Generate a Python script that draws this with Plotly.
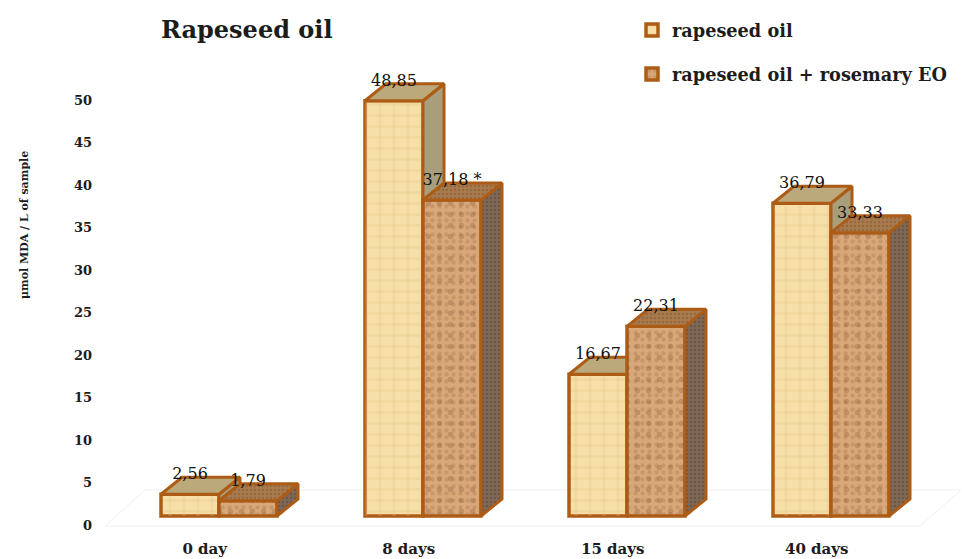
import plotly.graph_objects as go

categories = ["0 day", "8 days", "15 days", "40 days"]
series_a_name = "rapeseed oil"
series_b_name = "rapeseed oil + rosemary EO"
series_a = [2.56, 48.85, 16.67, 36.79]
series_b = [1.79, 37.18, 22.31, 33.33]
labels_a = ["2,56", "48,85", "16,67", "36,79"]
labels_b = ["1,79", "37,18 *", "22,31", "33,33"]
y_ticks = [0, 5, 10, 15, 20, 25, 30, 35, 40, 45, 50]

W, H = 962, 559
ML, MB = 93, 25
FONT = "DejaVu Serif"
INK = "#1c1c1c"
BROWN = "#ad5c16"
X_RANGE = [(ML - 219) / 204, (W - 219) / 204]
Y_RANGE = [(525 - (H - MB)) / 8.5, 525 / 8.5]
BASE = 1.06          # front plane sits above the axis zero, as in a 3-D chart
BAR_W = 58 / 204
DX, DY = 21 / 204, 17 / 8.5
LBL_UP = 19 / 8.5
TICK_SHIFT = -0.07


def faces(xs, values, face):
    px, py = [], []
    for x, v in zip(xs, values):
        l, r, b, t = x - BAR_W / 2, x + BAR_W / 2, BASE, BASE + v
        if face == "top":
            px += [l, r, r + DX, l + DX, l, None]
            py += [t, t, t + DY, t + DY, t, None]
        else:
            px += [r, r + DX, r + DX, r, r, None]
            py += [b, b + DY, t + DY, t, b, None]
    return px, py


def poly(xs, values, face, color, pat, xa, ya):
    px, py = faces(xs, values, face)
    return go.Scatter(x=px, y=py, mode="lines", fill="toself", fillcolor=color,
                      fillpattern=pat, line=dict(color=BROWN, width=3),
                      xaxis=xa, yaxis=ya, showlegend=False, hoverinfo="skip")


def texture(xs, values, pat, xa, ya):
    return go.Bar(x=xs, y=values, base=BASE, width=BAR_W, showlegend=False, hoverinfo="skip",
                  xaxis=xa, yaxis=ya, marker=dict(color="rgba(0,0,0,0)", line=dict(width=0), pattern=pat))


idx = list(range(len(categories)))
xa_pos = [i - BAR_W / 2 for i in idx]
xb_pos = [i + BAR_W / 2 for i in idx]

fig = go.Figure()

# series A: outlined front, texture layer, side and top
fig.add_trace(go.Bar(
    x=xa_pos, y=series_a, base=BASE, width=BAR_W, name=series_a_name, legendgroup="a",
    marker=dict(color="#f6dfa8", line=dict(color=BROWN, width=3.5),
                pattern=dict(shape="-", bgcolor="#f6dfa8", fgcolor="#eed296", size=11, solidity=0.25))))
fig.add_trace(texture(xa_pos, series_a,
                      dict(shape="|", bgcolor="rgba(0,0,0,0)", fgcolor="rgba(225,196,135,0.5)",
                           size=14, solidity=0.2), "x", "y"))
fig.add_trace(poly(xa_pos, series_a, "side", "#a89e7c", None, "x", "y"))
fig.add_trace(poly(xa_pos, series_a, "top", "#bba97c", None, "x", "y"))

# series B: above series A
fig.add_trace(go.Bar(
    x=xb_pos, y=series_b, base=BASE, width=BAR_W, name=series_b_name, legendgroup="b",
    xaxis="x2", yaxis="y2",
    marker=dict(color="#d8a87a", line=dict(color=BROWN, width=3.5),
                pattern=dict(shape=".", bgcolor="#d8a87a", fgcolor="#b98455", size=7, solidity=0.3))))
fig.add_trace(texture(xb_pos, series_b,
                      dict(shape=".", bgcolor="rgba(0,0,0,0)", fgcolor="rgba(125,80,45,0.55)",
                           size=11, solidity=0.2), "x2", "y2"))
fig.add_trace(poly(xb_pos, series_b, "side", "#7a6350",
                   dict(shape=".", bgcolor="#7f6854", fgcolor="#5a4636", size=4, solidity=0.35),
                   "x2", "y2"))
fig.add_trace(poly(xb_pos, series_b, "top", "#a87a4e",
                   dict(shape=".", bgcolor="#a87a4e", fgcolor="#83592f", size=4, solidity=0.35),
                   "x2", "y2"))

# value labels
fig.add_trace(go.Scatter(
    x=xa_pos + xb_pos,
    y=[BASE + v + LBL_UP for v in series_a + series_b],
    text=labels_a + labels_b, mode="text", textposition="middle center",
    textfont=dict(family=FONT, size=16, color="#111111"),
    xaxis="x2", yaxis="y2", showlegend=False, hoverinfo="skip"))

fig.update_layout(
    width=W, height=H, autosize=False,
    barmode="overlay", paper_bgcolor="white", plot_bgcolor="white",
    margin=dict(l=ML, r=0, t=0, b=MB, pad=0, autoexpand=False),
    font=dict(family=FONT, color=INK),
    title=dict(text="<b>Rapeseed oil</b>", x=161 / W, xanchor="left", xref="container",
               y=1 - 30 / H, yanchor="middle", font=dict(family=FONT, size=24, color=INK)),
    xaxis=dict(range=X_RANGE, tickmode="array", tickvals=[i + TICK_SHIFT for i in idx], ticktext=categories,
               showgrid=False, zeroline=False, showline=False, ticks="outside", ticklen=1, automargin=False,
               tickcolor="rgba(0,0,0,0)", tickfont=dict(family=FONT, size=15, weight="bold")),
    yaxis=dict(range=Y_RANGE, tickmode="array", tickvals=y_ticks, showgrid=False, zeroline=False,
               showline=False, ticks="", automargin=False,
               tickfont=dict(family=FONT, size=13, weight="bold")),
    xaxis2=dict(range=X_RANGE, overlaying="x", visible=False),
    yaxis2=dict(range=Y_RANGE, overlaying="y", visible=False),
    legend=dict(x=(632 - ML) / (W - ML), y=1 - 12 / (H - MB), xanchor="left", yanchor="top",
                bgcolor="rgba(0,0,0,0)", tracegroupgap=18, itemwidth=30,
                font=dict(family=FONT, size=17.7, weight="bold")),
    annotations=[dict(text="<b>μmol MDA / L of sample</b>",
                      x=(24 - ML) / (W - ML), y=1 - 225 / (H - MB),
                      xref="paper", yref="paper", xanchor="center", yanchor="middle",
                      textangle=-90, showarrow=False, font=dict(family=FONT, size=11))],
    shapes=[dict(type="path", layer="below", xref="x", yref="y",
                 path="M %f,%f L %f,%f L %f,%f L %f,%f Z" % (
                     (105 - 219) / 204, (525 - 526) / 8.5,
                     (145 - 219) / 204, (525 - 490) / 8.5,
                     (961 - 219) / 204, (525 - 490) / 8.5,
                     (920 - 219) / 204, (525 - 526) / 8.5),
                 line=dict(color="#f0f0f0", width=1), fillcolor="rgba(0,0,0,0)")],
)

fig.write_html("out.html", config={"displayModeBar": False},
               post_script="document.body.style.margin='0';")
